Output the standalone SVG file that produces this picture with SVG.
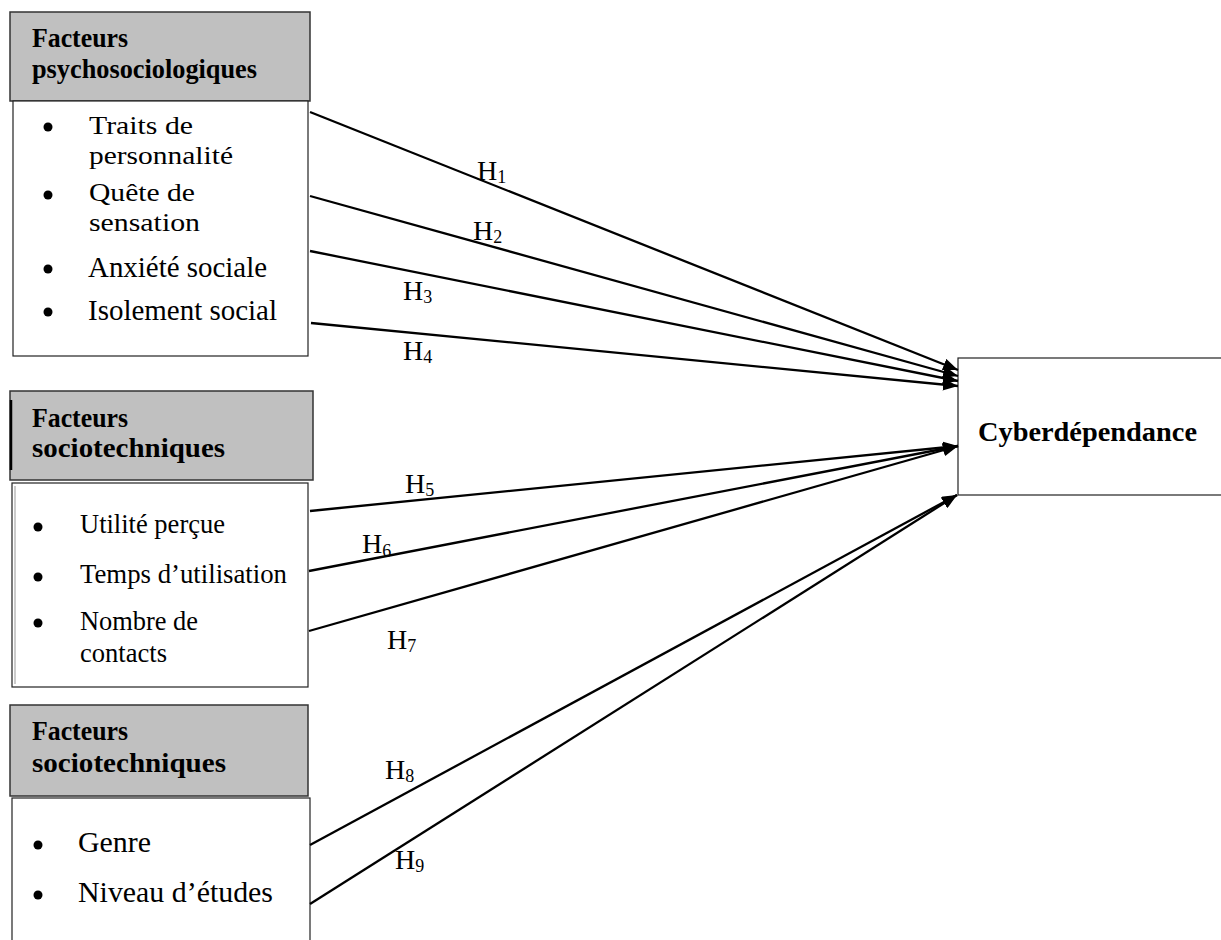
<svg xmlns="http://www.w3.org/2000/svg" width="1221" height="940" viewBox="0 0 1221 940">
<defs>
<style>
.hdr{fill:#c0c0c0;stroke:#333;stroke-width:1.5}
.body{fill:#fff;stroke:#222;stroke-width:1.2}
.ht{font-family:"Liberation Serif",serif;font-weight:bold;font-size:28px;fill:#000}
.it{font-family:"Liberation Serif",serif;font-size:29px;fill:#000}
.itc{font-family:"Liberation Serif",serif;font-size:26px;fill:#000}
.it2{font-family:"Liberation Serif",serif;font-size:27.5px;fill:#000}
.bul{fill:#000}
.lbl{font-family:"Liberation Serif",serif;font-size:28px;fill:#000}
.sub{font-size:18px}
.con{stroke:#000;stroke-width:2.3;fill:none;marker-end:url(#arr)}
</style>
<marker id="arr" markerUnits="userSpaceOnUse" markerWidth="15" markerHeight="12" refX="15" refY="6" orient="auto">
<path d="M0,0 L15,6 L0,12 z" fill="#000"/>
</marker>
</defs>

<g id="node-psycho">
<rect class="hdr" x="10" y="12" width="300" height="89"/>
<text class="ht"><tspan x="32" y="47" textLength="96" lengthAdjust="spacingAndGlyphs">Facteurs</tspan><tspan x="32" y="78" textLength="225" lengthAdjust="spacingAndGlyphs">psychosociologiques</tspan></text>
<rect class="body" x="13" y="101" width="295" height="255"/>
<circle class="bul" cx="48" cy="127" r="4.5"/>
<text class="itc" x="89" y="134" textLength="104" lengthAdjust="spacingAndGlyphs">Traits de</text>
<text class="itc" x="89" y="164" textLength="144" lengthAdjust="spacingAndGlyphs">personnalité</text>
<circle class="bul" cx="48" cy="195" r="4.5"/>
<text class="itc" x="89" y="201" textLength="106" lengthAdjust="spacingAndGlyphs">Quête de</text>
<text class="itc" x="89" y="231" textLength="111" lengthAdjust="spacingAndGlyphs">sensation</text>
<circle class="bul" cx="48" cy="269" r="4.5"/>
<text class="it" x="88" y="277" textLength="179" lengthAdjust="spacingAndGlyphs">Anxiété sociale</text>
<circle class="bul" cx="48" cy="312" r="4.5"/>
<text class="it" x="88" y="320" textLength="189" lengthAdjust="spacingAndGlyphs">Isolement social</text>
</g>

<g id="node-sociotech1">
<rect class="hdr" x="10" y="391" width="303" height="89" stroke-width="1"/>
<line x1="11" y1="400" x2="11" y2="470" stroke="#000" stroke-width="2.5"/>
<text class="ht"><tspan x="32" y="427" textLength="96" lengthAdjust="spacingAndGlyphs">Facteurs</tspan><tspan x="32" y="457" textLength="193" lengthAdjust="spacingAndGlyphs">sociotechniques</tspan></text>
<rect class="body" x="12" y="483" width="296" height="204"/>
<line x1="15" y1="486" x2="15" y2="684" stroke="#999" stroke-width="1"/>
<circle class="bul" cx="38" cy="527" r="4.5"/>
<text class="it2" x="80" y="533" textLength="145" lengthAdjust="spacingAndGlyphs">Utilité perçue</text>
<circle class="bul" cx="38" cy="577" r="4.5"/>
<text class="it2" x="80" y="583" textLength="207" lengthAdjust="spacingAndGlyphs">Temps d’utilisation</text>
<circle class="bul" cx="38" cy="623" r="4.5"/>
<text class="it2"><tspan x="80" y="630" textLength="118" lengthAdjust="spacingAndGlyphs">Nombre de</tspan><tspan x="80" y="662" textLength="87" lengthAdjust="spacingAndGlyphs">contacts</tspan></text>
</g>

<g id="node-sociotech2">
<rect class="hdr" x="10" y="705" width="298" height="91"/>
<text class="ht"><tspan x="32" y="740" textLength="96" lengthAdjust="spacingAndGlyphs">Facteurs</tspan><tspan x="32" y="772" textLength="194" lengthAdjust="spacingAndGlyphs">sociotechniques</tspan></text>
<rect class="body" x="12" y="798" width="298" height="150"/>
<circle class="bul" cx="38" cy="845" r="4.5"/>
<text class="it" x="78" y="852" textLength="73" lengthAdjust="spacingAndGlyphs">Genre</text>
<circle class="bul" cx="38" cy="895" r="4.5"/>
<text class="it" x="78" y="902" textLength="195" lengthAdjust="spacingAndGlyphs">Niveau d’études</text>
</g>

<g id="node-cyber">
<rect class="body" x="958" y="358" width="270" height="137"/>
<text class="ht" x="978" y="441" font-size="30" textLength="219" lengthAdjust="spacingAndGlyphs">Cyberdépendance</text>
</g>

<g id="connectors">
<line class="con" x1="310" y1="112" x2="958" y2="370"/>
<line class="con" x1="310" y1="196" x2="958" y2="376"/>
<line class="con" x1="310" y1="251" x2="958" y2="381"/>
<line class="con" x1="311" y1="323" x2="958" y2="386"/>
<line class="con" x1="310" y1="511" x2="958" y2="446"/>
<line class="con" x1="309" y1="571" x2="958" y2="446"/>
<line class="con" x1="309" y1="631" x2="958" y2="446"/>
<line class="con" x1="310" y1="845" x2="957" y2="495"/>
<line class="con" x1="310" y1="904" x2="957" y2="495"/>
</g>

<g id="labels">
<text class="lbl" x="477" y="180">H<tspan class="sub" dy="3">1</tspan></text>
<text class="lbl" x="473" y="240">H<tspan class="sub" dy="3">2</tspan></text>
<text class="lbl" x="403" y="300">H<tspan class="sub" dy="3">3</tspan></text>
<text class="lbl" x="403" y="360">H<tspan class="sub" dy="3">4</tspan></text>
<text class="lbl" x="405" y="493">H<tspan class="sub" dy="3">5</tspan></text>
<text class="lbl" x="362" y="553">H<tspan class="sub" dy="4">6</tspan></text>
<text class="lbl" x="387" y="649">H<tspan class="sub" dy="3">7</tspan></text>
<text class="lbl" x="385" y="779">H<tspan class="sub" dy="3">8</tspan></text>
<text class="lbl" x="395" y="869">H<tspan class="sub" dy="3">9</tspan></text>
</g>
</svg>
